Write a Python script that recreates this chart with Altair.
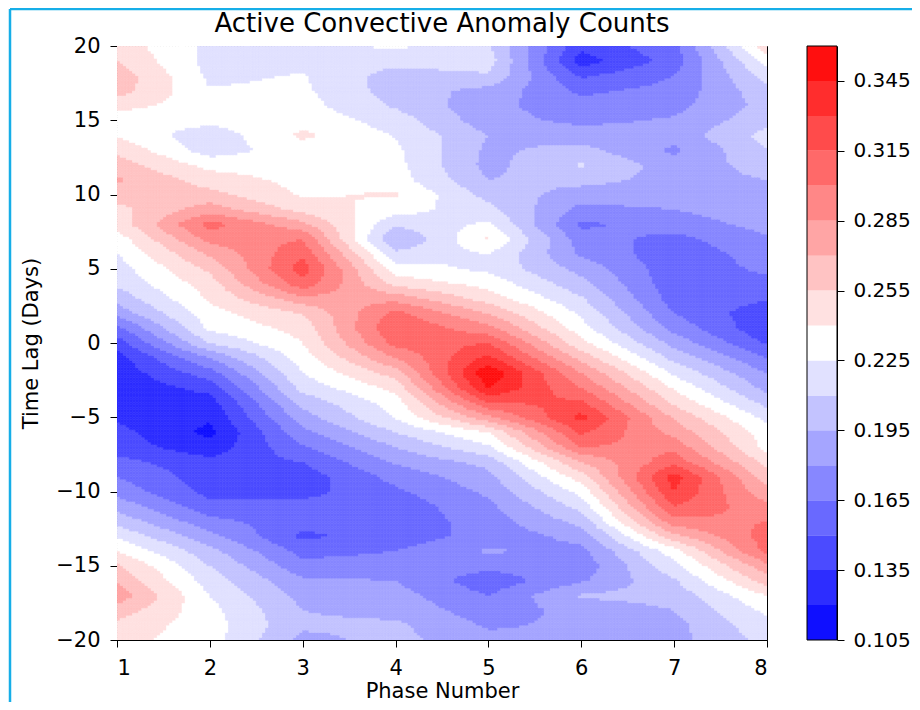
import altair as alt
import pandas as pd

# ---------------- data ----------------
phases = [1, 2, 3, 4, 5, 6, 7, 8]
lags = list(range(20, -21, -1))  # 20 ... -20, order of the arrays below

phase1 = [0.248, 0.255, 0.265, 0.262, 0.245,
          0.232, 0.238, 0.252, 0.263, 0.272,
          0.262, 0.250, 0.245, 0.232, 0.224,
          0.218, 0.213, 0.200, 0.185, 0.160,
          0.142,
          0.128, 0.125, 0.124, 0.125, 0.132,
          0.140, 0.143, 0.155, 0.165, 0.175,
          0.190, 0.205, 0.223, 0.240, 0.258,
          0.268, 0.280, 0.263, 0.250, 0.245]
phase2 = [0.222, 0.220, 0.222, 0.226, 0.232,
          0.230, 0.215, 0.217, 0.235, 0.248,
          0.260, 0.278, 0.306, 0.290, 0.272,
          0.258, 0.248, 0.242, 0.234, 0.228,
          0.210,
          0.180, 0.158, 0.140, 0.128, 0.122,
          0.116, 0.125, 0.140, 0.142, 0.145,
          0.155, 0.170, 0.185, 0.200, 0.210,
          0.218, 0.225, 0.230, 0.232, 0.232]
phase3 = [0.218, 0.220, 0.226, 0.228, 0.231,
          0.235, 0.243, 0.234, 0.233, 0.235,
          0.238, 0.250, 0.275, 0.300, 0.312,
          0.323, 0.310, 0.280, 0.255, 0.245,
          0.240,
          0.232, 0.225, 0.215, 0.200, 0.188,
          0.175, 0.163, 0.150, 0.142, 0.145,
          0.155, 0.155, 0.147, 0.160, 0.170,
          0.183, 0.190, 0.195, 0.198, 0.190]
phase4 = [0.228, 0.215, 0.203, 0.203, 0.208,
          0.218, 0.224, 0.228, 0.230, 0.232,
          0.242, 0.232, 0.212, 0.193, 0.215,
          0.232, 0.250, 0.280, 0.305, 0.315,
          0.305,
          0.285, 0.262, 0.245, 0.232, 0.226,
          0.210, 0.195, 0.182, 0.170, 0.162,
          0.156, 0.155, 0.157, 0.165, 0.172,
          0.180, 0.186, 0.190, 0.198, 0.200]
phase5 = [0.212, 0.218, 0.208, 0.190, 0.185,
          0.186, 0.195, 0.192, 0.190, 0.195,
          0.205, 0.215, 0.228, 0.242, 0.225,
          0.222, 0.235, 0.248, 0.270, 0.290,
          0.315,
          0.335, 0.358, 0.346, 0.315, 0.280,
          0.240, 0.222, 0.200, 0.190, 0.183,
          0.176, 0.172, 0.170, 0.182, 0.170,
          0.155, 0.165, 0.172, 0.178, 0.185]
phase6 = [0.140, 0.127, 0.148, 0.162, 0.170,
          0.176, 0.188, 0.200, 0.212, 0.200,
          0.188, 0.175, 0.162, 0.172, 0.178,
          0.190, 0.200, 0.212, 0.222, 0.232,
          0.245,
          0.265, 0.285, 0.300, 0.318, 0.335,
          0.318, 0.300, 0.270, 0.248, 0.230,
          0.215, 0.200, 0.185, 0.175, 0.170,
          0.178, 0.197, 0.185, 0.183, 0.180]
phase7 = [0.160, 0.157, 0.165, 0.170, 0.175,
          0.182, 0.186, 0.177, 0.187, 0.190,
          0.188, 0.180, 0.172, 0.160, 0.155,
          0.155, 0.155, 0.158, 0.165, 0.175,
          0.190,
          0.205, 0.222, 0.238, 0.252, 0.268,
          0.280, 0.295, 0.310, 0.337, 0.330,
          0.315, 0.295, 0.265, 0.233, 0.220,
          0.208, 0.200, 0.195, 0.190, 0.190]
phase8 = [0.250, 0.230, 0.215, 0.205, 0.200,
          0.205, 0.215, 0.210, 0.200, 0.195,
          0.190, 0.190, 0.185, 0.178, 0.172,
          0.168, 0.160, 0.152, 0.140, 0.138,
          0.148,
          0.165, 0.180, 0.190, 0.205, 0.220,
          0.232, 0.235, 0.250, 0.262, 0.275,
          0.290, 0.300, 0.307, 0.305, 0.280,
          0.262, 0.240, 0.228, 0.220, 0.215]

levels = [0.105, 0.120, 0.135, 0.150, 0.165, 0.180, 0.195, 0.210, 0.225,
          0.240, 0.255, 0.270, 0.285, 0.300, 0.315, 0.330, 0.345, 0.360]
cbar_ticks = [0.105, 0.135, 0.165, 0.195, 0.225, 0.255, 0.285, 0.315, 0.345]
x_ticks = [1, 2, 3, 4, 5, 6, 7, 8]
y_ticks = [-20, -15, -10, -5, 0, 5, 10, 15, 20]
band_colors = ["#0f0fff", "#2d2dff", "#4b4bff", "#6969ff", "#8787ff", "#a5a5ff",
               "#c3c3ff", "#e1e1ff", "#ffffff", "#ffe1e1", "#ffc3c3", "#ffa5a5",
               "#ff8787", "#ff6969", "#ff4b4b", "#ff2d2d", "#ff0f0f"]
title_text = ["Active Convective Anomaly Counts"]

# ---------------- tables ----------------
columns = [phase1, phase2, phase3, phase4, phase5, phase6, phase7, phase8]
rows = []
for p, col in zip(phases, columns):
    for l, v in zip(lags, col):
        rows.append({"key": f"{p}_{l}", "val": v})
grid = pd.DataFrame(rows)

cbar = pd.DataFrame({"lo": levels[:-1], "hi": levels[1:]})

W, H = 650, 594
PAD_L, PAD_T, PAD_R, PAD_B = 109, 38, 145, 62
NX, NY = 210, 240          # rendering cells for the filled contour
DX, DY = 7 / NX, 40 / NY
FONT = "DejaVu Sans"
FS = 21
FRAME = "#16aee8"

color_scale = alt.Scale(type="threshold", domain=levels[1:-1], range=band_colors)

# ---------------- filled contour (bilinear between grid nodes) ----------------
heat = alt.Chart(alt.sequence(0, NX * NY, as_="i")).transform_calculate(
    ix=f"floor(datum.i / {NY})", iy=f"datum.i % {NY}"
).transform_calculate(
    x1=f"1 + datum.ix * {DX}", y1=f"-20 + datum.iy * {DY}"
).transform_calculate(
    x2=f"datum.x1 + {DX}", y2=f"datum.y1 + {DY}",
    px=f"datum.x1 + {DX / 2}", py=f"datum.y1 + {DY / 2}"
).transform_calculate(
    gx="floor(datum.px)", gy="floor(datum.py)"
).transform_calculate(
    fx="datum.px - datum.gx", fy="datum.py - datum.gy",
    k00="datum.gx + '_' + datum.gy",
    k10="(datum.gx + 1) + '_' + datum.gy",
    k01="datum.gx + '_' + (datum.gy + 1)",
    k11="(datum.gx + 1) + '_' + (datum.gy + 1)",
)
for k, a in [("k00", "v00"), ("k10", "v10"), ("k01", "v01"), ("k11", "v11")]:
    heat = heat.transform_lookup(
        lookup=k, from_=alt.LookupData(data=grid, key="key", fields=["val"]), as_=[a]
    )
heat = heat.transform_calculate(
    v="(1-datum.fx)*(1-datum.fy)*datum.v00 + datum.fx*(1-datum.fy)*datum.v10"
      " + (1-datum.fx)*datum.fy*datum.v01 + datum.fx*datum.fy*datum.v11"
).mark_rect(strokeWidth=0.6, clip=True).encode(
    x=alt.X("x1:Q", scale=alt.Scale(domain=[1, 8], nice=False, zero=False),
            axis=alt.Axis(values=x_ticks, format="d", title="Phase Number",
                          titleY=57, titleBaseline="alphabetic")),
    x2="x2:Q",
    y=alt.Y("y1:Q", scale=alt.Scale(domain=[-20, 20], nice=False, zero=False),
            axis=alt.Axis(values=y_ticks, format="d", title="Time Lag (Days)",
                          titlePadding=14)),
    y2="y2:Q",
    color=alt.Color("v:Q", scale=color_scale, legend=None),
    stroke=alt.Stroke("v:Q", scale=color_scale, legend=None),
)

# ---------------- colour bar ----------------
bar = alt.Chart(cbar).transform_calculate(
    mid="(datum.lo + datum.hi) / 2"
).mark_rect().encode(
    x=alt.value(690), x2=alt.value(720),
    y=alt.Y("lo:Q", scale=alt.Scale(domain=[levels[0], levels[-1]], nice=False, zero=False),
            axis=alt.Axis(orient="right", values=cbar_ticks, format=".3f", title=None,
                          offset=70, labelFontSize=20, labelPadding=9)),
    y2="hi:Q",
    color=alt.Color("mid:Q", scale=color_scale, legend=None),
)
bar_outline = alt.Chart(pd.DataFrame({"a": [0]})).mark_rect(
    fillOpacity=0, stroke="black", strokeWidth=1
).encode(x=alt.value(690), x2=alt.value(720), y=alt.value(0), y2=alt.value(H))

# ---------------- title and outer frame ----------------
title = alt.Chart(pd.DataFrame({"t": title_text})).mark_text(
    font=FONT, fontSize=26, color="black", align="center", baseline="alphabetic"
).encode(x=alt.value(W / 2), y=alt.value(-14), text="t:N")

one = pd.DataFrame({"a": [0]})
frame_left = alt.Chart(one).mark_rule(color=FRAME, strokeWidth=2.5).encode(
    x=alt.value(-107), y=alt.value(-37), y2=alt.value(H + PAD_B))
frame_top = alt.Chart(one).mark_rule(color=FRAME, strokeWidth=2.5).encode(
    x=alt.value(-107), x2=alt.value(W + PAD_R), y=alt.value(-37))

chart = alt.layer(heat, bar, bar_outline, title, frame_left, frame_top).resolve_scale(
    y="independent"
).properties(
    width=W, height=H,
    autosize=alt.AutoSizeParams(type="none"),
    padding={"left": PAD_L, "top": PAD_T, "right": PAD_R, "bottom": PAD_B},
).configure(
    background="white"
).configure_view(
    stroke="black", strokeWidth=1
).configure_axis(
    labelFont=FONT, titleFont=FONT, labelFontSize=FS, titleFontSize=FS,
    labelColor="black", titleColor="black", titleFontWeight="normal",
    tickColor="black", domainColor="black", tickSize=7, labelPadding=10,
    grid=False, domain=True,
)

chart.save("out.html", embed_options={"renderer": "svg", "actions": False})
